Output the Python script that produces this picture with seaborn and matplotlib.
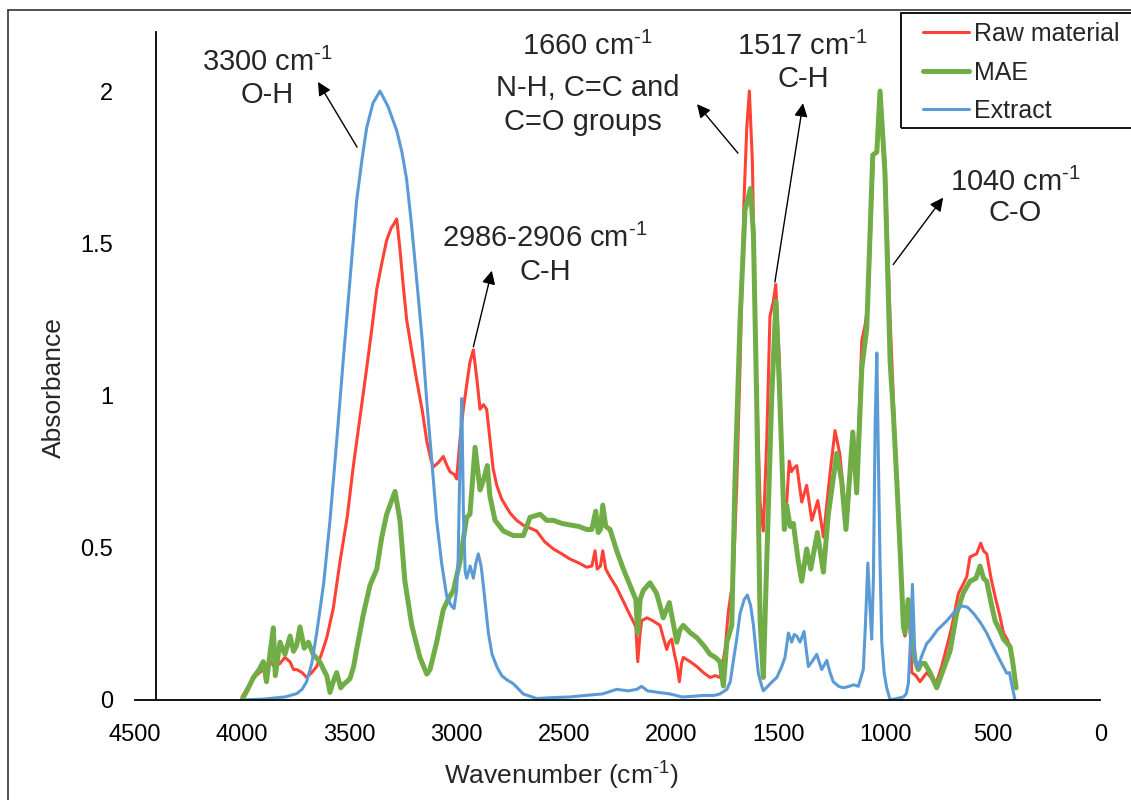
import numpy as np
import pandas as pd
import matplotlib
matplotlib.use('Agg')
import matplotlib.pyplot as plt
from matplotlib.lines import Line2D
from matplotlib.patches import Rectangle
import seaborn as sns

# FTIR spectra (wavenumber cm-1, absorbance)
raw_wn = [4000, 3963, 3935, 3901, 3870, 3850, 3823, 3800, 3776, 3760, 3745, 3720, 3699, 3675,
          3652, 3630, 3605, 3575, 3543, 3510, 3481, 3450, 3419, 3395, 3372, 3350, 3326, 3305,
          3295, 3279, 3264, 3250, 3233, 3210, 3186, 3160, 3139, 3120, 3109, 3085, 3062, 3045,
          3031, 3010, 3000, 2985, 2969, 2950, 2938, 2922, 2905, 2891, 2875, 2860, 2844, 2830,
          2813, 2790, 2751, 2720, 2689, 2660, 2627, 2590, 2549, 2510, 2472, 2430, 2394, 2370,
          2355, 2345, 2330, 2319, 2305, 2285, 2255, 2223, 2200, 2177, 2165, 2156, 2145, 2138,
          2114, 2085, 2052, 2035, 2021, 2010, 1998, 1985, 1975, 1962, 1952, 1944, 1910, 1881,
          1850, 1819, 1795, 1773, 1760, 1749, 1734, 1711, 1695, 1679, 1661, 1648, 1636, 1622,
          1605, 1586, 1571, 1555, 1540, 1524, 1513, 1496, 1478, 1462, 1450, 1440, 1431, 1415,
          1392, 1369, 1345, 1317, 1291, 1260, 1237, 1215, 1182, 1154, 1136, 1112, 1097, 1082,
          1070, 1058, 1042, 1027, 1004, 980, 957, 934, 918, 911, 896, 885, 879, 860, 841, 825,
          809, 785, 763, 740, 716, 693, 662, 640, 623, 608, 577, 558, 545, 530, 510, 491, 470,
          452, 435, 421, 410, 398]
raw_abs = [0.01, 0.054, 0.08, 0.10, 0.13, 0.11, 0.12, 0.14, 0.125, 0.10, 0.10, 0.09, 0.074, 0.09,
           0.11, 0.15, 0.205, 0.30, 0.456, 0.60, 0.77, 0.93, 1.09, 1.22, 1.35, 1.43, 1.51, 1.55,
           1.56, 1.58, 1.48, 1.37, 1.25, 1.15, 1.05, 0.95, 0.85, 0.79, 0.765, 0.78, 0.80, 0.77,
           0.75, 0.74, 0.726, 0.85, 0.955, 1.05, 1.11, 1.15, 1.05, 0.955, 0.97, 0.955, 0.85, 0.76,
           0.705, 0.66, 0.614, 0.59, 0.574, 0.565, 0.555, 0.52, 0.496, 0.48, 0.463, 0.45, 0.436, 0.44,
           0.49, 0.43, 0.44, 0.49, 0.43, 0.404, 0.37, 0.324, 0.29, 0.258, 0.24, 0.126, 0.22, 0.26,
           0.27, 0.26, 0.245, 0.20, 0.166, 0.19, 0.20, 0.15, 0.12, 0.06, 0.12, 0.14, 0.125, 0.11,
           0.09, 0.074, 0.08, 0.074, 0.12, 0.166, 0.29, 0.40, 0.70, 1.11, 1.64, 1.88, 2.0, 1.77,
           1.11, 0.65, 0.555, 0.85, 1.26, 1.31, 1.365, 1.11, 0.65, 0.65, 0.785, 0.75, 0.76, 0.77,
           0.65, 0.705, 0.59, 0.655, 0.535, 0.745, 0.885, 0.81, 0.575, 0.88, 0.72, 1.18, 1.23, 1.31,
           1.55, 1.79, 1.80, 2.0, 1.77, 1.25, 0.85, 0.52, 0.25, 0.21, 0.32, 0.20, 0.09, 0.08, 0.06, 0.075,
           0.09, 0.07, 0.06, 0.11, 0.175, 0.24, 0.35, 0.38, 0.405, 0.47, 0.48, 0.515, 0.49, 0.48, 0.40, 0.34, 0.28,
           0.22, 0.20, 0.175, 0.14, 0.06]

mae_wn = [4000, 3970, 3947, 3920, 3901, 3886, 3870, 3854, 3845, 3823, 3800, 3776, 3760, 3745,
          3730, 3710, 3691, 3668, 3637, 3620, 3605, 3590, 3575, 3559, 3540, 3528, 3497, 3480,
          3466, 3435, 3404, 3372, 3349, 3326, 3305, 3287, 3264, 3241, 3209, 3171, 3139, 3124,
          3093, 3062, 3040, 3015, 2984, 2953, 2938, 2914, 2891, 2876, 2857, 2845, 2821, 2782,
          2736, 2689, 2658, 2611, 2580, 2549, 2510, 2472, 2430, 2394, 2370, 2352, 2340, 2330,
          2319, 2305, 2285, 2254, 2223, 2200, 2177, 2165, 2156, 2145, 2130, 2099, 2068, 2037,
          2020, 2009, 1990, 1974, 1960, 1944, 1910, 1881, 1850, 1819, 1795, 1773, 1757, 1741,
          1718, 1703, 1679, 1656, 1641, 1631, 1617, 1602, 1586, 1571, 1555, 1532, 1512, 1494,
          1473, 1462, 1446, 1431, 1408, 1392, 1369, 1350, 1319, 1291, 1268, 1229, 1206, 1186,
          1154, 1136, 1112, 1089, 1075, 1061, 1042, 1027, 1004, 980, 965, 949, 934, 918, 911,
          896, 880, 864, 849, 835, 818, 794, 763, 732, 701, 670, 640, 608, 580, 561, 545, 530,
          510, 491, 470, 452, 421, 408, 393]
mae_abs = [0.0, 0.04, 0.074, 0.10, 0.126, 0.06, 0.15, 0.237, 0.08, 0.19, 0.15, 0.21, 0.16, 0.18,
           0.24, 0.17, 0.19, 0.15, 0.125, 0.10, 0.08, 0.025, 0.06, 0.09, 0.04, 0.05, 0.07, 0.11,
           0.165, 0.28, 0.376, 0.43, 0.534, 0.61, 0.65, 0.685, 0.59, 0.39, 0.245, 0.14, 0.085, 0.10,
           0.19, 0.297, 0.33, 0.36, 0.456, 0.60, 0.61, 0.83, 0.69, 0.72, 0.77, 0.67, 0.59, 0.555,
           0.54, 0.54, 0.60, 0.61, 0.59, 0.59, 0.58, 0.575, 0.57, 0.56, 0.56, 0.62, 0.55, 0.56,
           0.64, 0.57, 0.56, 0.49, 0.43, 0.39, 0.35, 0.33, 0.22, 0.33, 0.36, 0.385, 0.35, 0.27,
           0.30, 0.32, 0.25, 0.19, 0.23, 0.245, 0.22, 0.205, 0.18, 0.15, 0.14, 0.126, 0.046, 0.19,
           0.245, 0.72, 1.25, 1.61, 1.65, 1.68, 1.53, 0.99, 0.26, 0.074, 0.456, 0.99, 1.31, 0.99,
           0.56, 0.64, 0.57, 0.58, 0.456, 0.39, 0.496, 0.43, 0.55, 0.42, 0.61, 0.81, 0.72, 0.56,
           0.88, 0.68, 1.09, 1.22, 1.50, 1.79, 1.80, 2.0, 1.73, 1.11, 0.94, 0.72, 0.50, 0.24, 0.22,
           0.33, 0.22, 0.13, 0.10, 0.12, 0.12, 0.09, 0.04, 0.10, 0.16, 0.285, 0.35, 0.39, 0.40, 0.44, 0.40, 0.39,
           0.32, 0.26, 0.23, 0.20, 0.175, 0.12, 0.04]

ext_wn = [4000, 3900, 3800, 3745, 3720, 3699, 3675, 3652, 3620, 3590, 3560, 3529, 3497, 3466,
          3440, 3419, 3390, 3357, 3320, 3279, 3255, 3233, 3210, 3186, 3160, 3139, 3115, 3093,
          3070, 3046, 3025, 3012, 3000, 2993, 2984, 2976, 2968, 2960, 2953, 2937, 2922, 2910,
          2899, 2886, 2876, 2852, 2835, 2813, 2790, 2767, 2737, 2710, 2690, 2627, 2550, 2472,
          2400, 2320, 2254, 2200, 2160, 2138, 2110, 2060, 2006, 1950, 1900, 1852, 1800, 1773,
          1741, 1725, 1711, 1695, 1679, 1660, 1645, 1630, 1617, 1605, 1594, 1580, 1571, 1550,
          1530, 1508, 1485, 1470, 1454, 1439, 1427, 1415, 1400, 1381, 1370, 1361, 1340, 1322,
          1299, 1275, 1260, 1245, 1220, 1198, 1170, 1151, 1128, 1105, 1095, 1084, 1075, 1066,
          1058, 1050, 1042, 1035, 1027, 1019, 1008, 996, 980, 950, 918, 905, 895, 885, 876,
          870, 864, 855, 849, 830, 809, 794, 760, 716, 680, 646, 620, 592, 560, 530, 500, 468,
          437, 424, 410, 398]
ext_abs = [0.0, 0.003, 0.01, 0.021, 0.035, 0.06, 0.12, 0.22, 0.38, 0.59, 0.84, 1.11, 1.38, 1.64,
           1.78, 1.88, 1.96, 2.0, 1.95, 1.87, 1.80, 1.71, 1.56, 1.38, 1.18, 0.98, 0.78, 0.59,
           0.45, 0.34, 0.31, 0.30, 0.36, 0.46, 0.80, 0.99, 0.60, 0.42, 0.40, 0.44, 0.40, 0.45,
           0.48, 0.44, 0.38, 0.22, 0.15, 0.11, 0.08, 0.067, 0.054, 0.035, 0.02, 0.005, 0.008, 0.01,
           0.015, 0.02, 0.035, 0.03, 0.035, 0.045, 0.03, 0.025, 0.02, 0.01, 0.012, 0.015, 0.015, 0.02,
           0.035, 0.06, 0.127, 0.20, 0.285, 0.33, 0.345, 0.31, 0.246, 0.16, 0.087, 0.05, 0.03, 0.045,
           0.06, 0.074, 0.11, 0.14, 0.22, 0.19, 0.215, 0.21, 0.19, 0.225, 0.16, 0.11, 0.13, 0.15,
           0.10, 0.13, 0.09, 0.06, 0.045, 0.04, 0.045, 0.05, 0.045, 0.10, 0.25, 0.45, 0.32, 0.20,
           0.40, 0.90, 1.14, 0.80, 0.45, 0.19, 0.09, 0.04, 0.0, 0.005, 0.01, 0.02, 0.055, 0.20, 0.38,
           0.25, 0.13, 0.11, 0.11, 0.15, 0.186, 0.197, 0.23, 0.26, 0.29, 0.309, 0.305, 0.285, 0.255, 0.22, 0.175, 0.13,
           0.088, 0.09, 0.04, 0.0]

series_names = ['Raw material', 'MAE', 'Extract']
series_colors = ['#FF4235', '#70AD47', '#5B9BD5']
x_ticks = [4500, 4000, 3500, 3000, 2500, 2000, 1500, 1000, 500, 0]
y_ticks = [0, 0.5, 1, 1.5, 2]
y_tick_labels = ['0', '0.5', '1', '1.5', '2']

sns.set_style('white')
plt.rcParams['font.family'] = ['Liberation Sans', 'DejaVu Sans']
plt.rcParams['mathtext.fontset'] = 'custom'
plt.rcParams['mathtext.rm'] = 'Liberation Sans'
plt.rcParams['mathtext.default'] = 'rm'

fig = plt.figure(figsize=(11.31, 8), dpi=100)
ax = fig.add_axes([0.1191, 0.125, 0.8539, 0.835])

widths = [2.2, 3.6, 2.2]
datasets = [(raw_wn, raw_abs), (mae_wn, mae_abs), (ext_wn, ext_abs)]
for (wn, ab), name, col, lw in zip(datasets, series_names, series_colors, widths):
    d = pd.DataFrame({'wn': wn, 'abs': ab})
    sns.lineplot(data=d, x='wn', y='abs', sort=False, estimator=None, color=col,
                 linewidth=lw, ax=ax, label=name, legend=False)

ax.set_xlim(4500, 0)
ax.set_ylim(0, 2.194)
ax.set_xticks(x_ticks)
ax.set_xticklabels([str(t) for t in x_ticks])
ax.set_yticks(y_ticks)
ax.set_yticklabels(y_tick_labels)
ax.tick_params(axis='x', length=0, pad=17, labelsize=17, colors='black')
ax.tick_params(axis='y', length=0, pad=31, labelsize=17, colors='black')

for s in ['top', 'right']:
    ax.spines[s].set_visible(False)
ax.spines['left'].set_position(('data', 4400))
for s in ['left', 'bottom']:
    ax.spines[s].set_color('black')
    ax.spines[s].set_linewidth(1.3)

sup = r'$^{\text{-1}}$'
ax.set_xlabel('Wavenumber (cm' + sup + ')', fontsize=19, va='center')
ax.xaxis.set_label_coords(0.4414, -0.114)
ax.set_ylabel('Absorbance', fontsize=19, va='center')
ax.yaxis.set_label_coords(-0.0840, 0.467)

# peak annotations
fs = 21
ax.text(3883, 2.095, '3300 cm' + sup, fontsize=fs, ha='center', va='center')
ax.text(3883, 1.987, 'O-H', fontsize=fs, ha='center', va='center')
ax.text(2588, 1.517, '2986-2906 cm' + sup, fontsize=fs, ha='center', va='center')
ax.text(2588, 1.406, 'C-H', fontsize=fs, ha='center', va='center')
ax.text(2388, 2.148, '1660 cm' + sup, fontsize=fs, ha='center', va='center')
ax.text(2388, 2.010, 'N-H, C=C and', fontsize=fs, ha='center', va='center')
ax.text(2410, 1.898, 'C=O groups', fontsize=fs, ha='center', va='center')
ax.text(1386, 2.148, '1517 cm' + sup, fontsize=fs, ha='center', va='center')
ax.text(1386, 2.040, 'C-H', fontsize=fs, ha='center', va='center')
ax.text(398, 1.700, '1040 cm' + sup, fontsize=fs, ha='center', va='center')
ax.text(398, 1.600, 'C-O', fontsize=fs, ha='center', va='center')

arrows = [((3464, 1.816), (3646, 2.03)),
          ((2922, 1.16), (2836, 1.41)),
          ((1689, 1.796), (1880, 1.957)),
          ((1517, 1.373), (1386, 1.96)),
          ((966, 1.43), (733, 1.65))]
for tail, head in arrows:
    ax.annotate('', xy=head, xytext=tail,
                arrowprops=dict(arrowstyle='-|>', color='black', lw=1.0,
                                mutation_scale=20, shrinkA=0, shrinkB=0))

# legend: box runs past the right edge of the picture, as in the original
handles = [Line2D([], [], color=c, lw=w) for c, w in zip(series_colors, widths)]
leg = ax.legend(handles, series_names, loc='upper left', fontsize=18,
                bbox_to_anchor=(923 / 1131, 1 - 22 / 800), bbox_transform=fig.transFigure,
                frameon=False, borderpad=0, handlelength=1.85, handletextpad=0.2,
                labelspacing=0.58, borderaxespad=0)
fig.add_artist(Rectangle((901 / 1131, 1 - 128 / 800), 260 / 1131, 115 / 800,
                         transform=fig.transFigure, fill=False, edgecolor='black', lw=1.3))

# chart area border (top and left edges visible)
fig.add_artist(Line2D([8 / 1131, 1.0], [1 - 10 / 800, 1 - 10 / 800], color='#333333', lw=1.2,
                      transform=fig.transFigure))
fig.add_artist(Line2D([8 / 1131, 8 / 1131], [0, 1 - 10 / 800], color='#333333', lw=1.2,
                      transform=fig.transFigure))

fig.savefig('out.png', dpi=100)
